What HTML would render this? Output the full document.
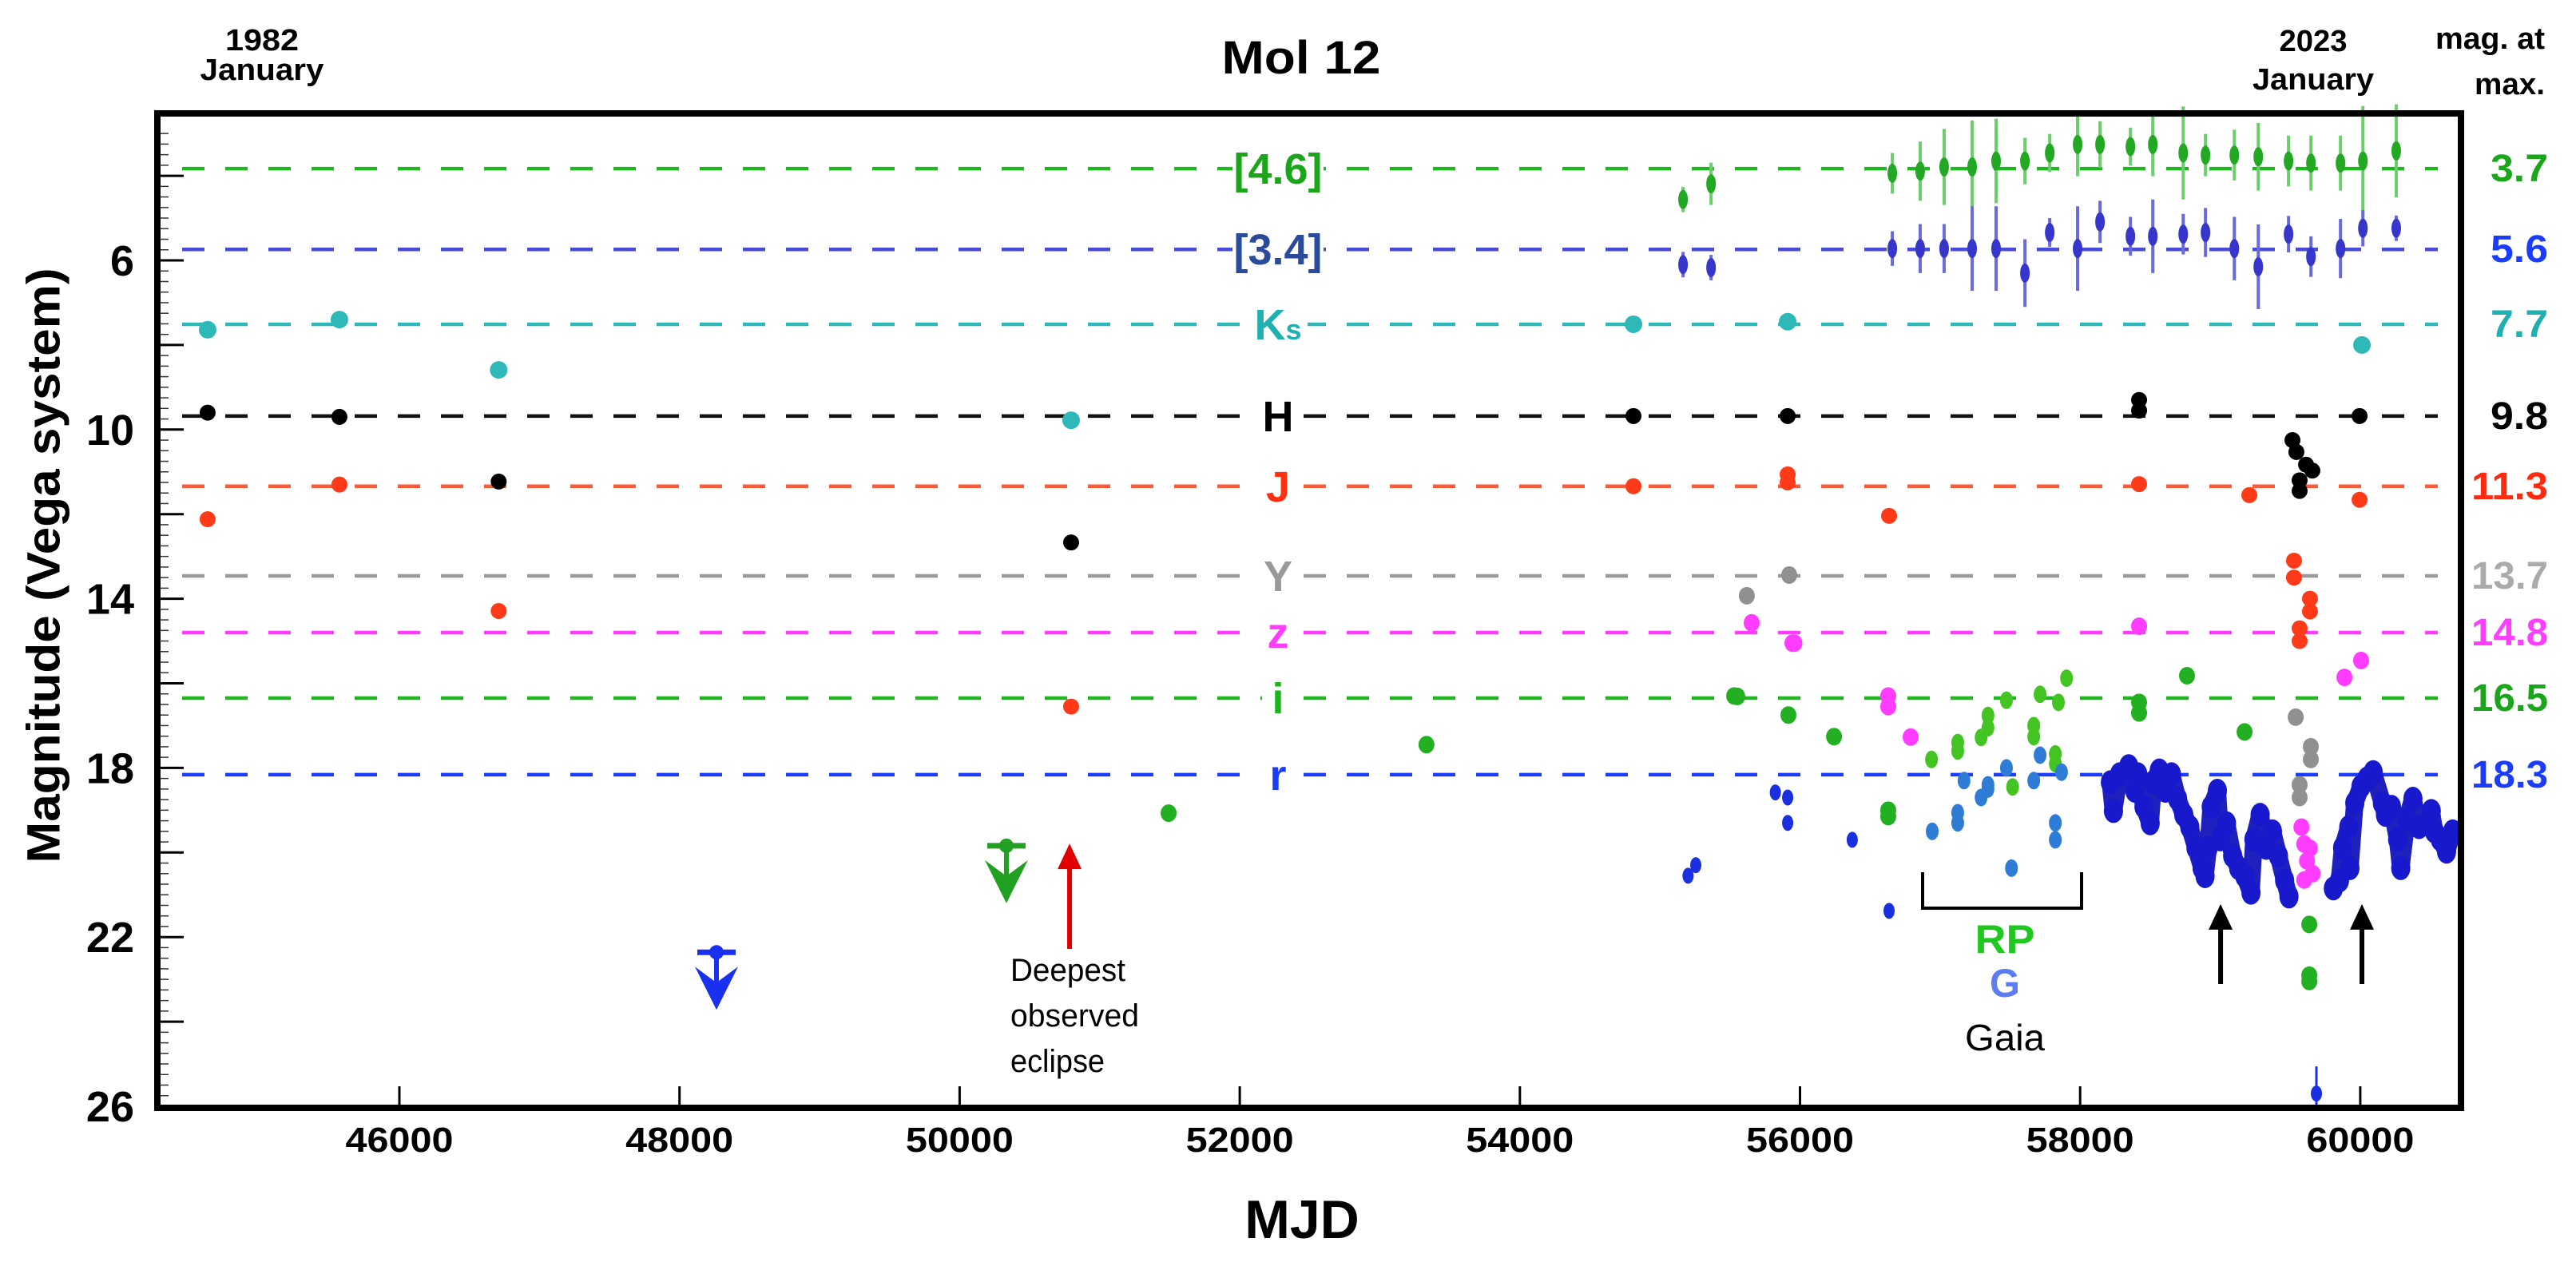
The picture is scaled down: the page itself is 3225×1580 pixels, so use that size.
<!DOCTYPE html>
<html><head><meta charset="utf-8"><style>
html,body{margin:0;padding:0;background:#fff}
svg{display:block}
text{font-family:"Liberation Sans",sans-serif}
</style></head><body>
<svg id="chart" xmlns="http://www.w3.org/2000/svg" width="3225" height="1580" viewBox="0 0 3225 1580">
<rect x="0" y="0" width="3225" height="1580" fill="#fff"/>
<g id="lines"></g>
<g id="marks"></g>
<g id="axes"></g>
<text x="1629" y="92" font-size="58" font-weight="bold" text-anchor="middle" textLength="199" lengthAdjust="spacingAndGlyphs">Mol 12</text>
<text x="328" y="63" font-size="38" font-weight="bold" text-anchor="middle" textLength="92" lengthAdjust="spacingAndGlyphs">1982</text>
<text x="328" y="100" font-size="38" font-weight="bold" text-anchor="middle" textLength="155" lengthAdjust="spacingAndGlyphs">January</text>
<text x="2896" y="64" font-size="38" font-weight="bold" text-anchor="middle" textLength="85" lengthAdjust="spacingAndGlyphs">2023</text>
<text x="2896" y="112" font-size="38" font-weight="bold" text-anchor="middle" textLength="152" lengthAdjust="spacingAndGlyphs">January</text>
<text x="3186" y="61" font-size="38" font-weight="bold" text-anchor="end" textLength="137" lengthAdjust="spacingAndGlyphs">mag. at</text>
<text x="3186" y="118" font-size="38" font-weight="bold" text-anchor="end" textLength="88" lengthAdjust="spacingAndGlyphs">max.</text>
<text x="59" y="708" font-size="58" font-weight="bold" text-anchor="middle" textLength="745" lengthAdjust="spacingAndGlyphs" transform="rotate(-90 59 708)" dominant-baseline="middle">Magnitude (Vega system)</text>
<text x="1630" y="1550" font-size="68" font-weight="bold" text-anchor="middle">MJD</text>
<text x="1265" y="1228" font-size="40" textLength="144" lengthAdjust="spacingAndGlyphs">Deepest</text>
<text x="1265" y="1285" font-size="40" textLength="161" lengthAdjust="spacingAndGlyphs">observed</text>
<text x="1265" y="1342" font-size="40" textLength="118" lengthAdjust="spacingAndGlyphs">eclipse</text>
<path d="M2407 1092 V1137 H2606 V1092" fill="none" stroke="#000" stroke-width="4"/>
<text x="2510" y="1193" font-size="50" font-weight="bold" fill="#1ec81e" text-anchor="middle" textLength="75" lengthAdjust="spacingAndGlyphs">RP</text>
<text x="2510" y="1248" font-size="50" font-weight="bold" fill="#5b7cf5" text-anchor="middle" textLength="38" lengthAdjust="spacingAndGlyphs">G</text>
<text x="2510" y="1315" font-size="46" text-anchor="middle" textLength="100" lengthAdjust="spacingAndGlyphs">Gaia</text>
<script>
// ---- data ----
const xTicks = [46000, 48000, 50000, 52000, 54000, 56000, 58000, 60000];
const yTicks = [6, 10, 14, 18, 22, 26];
const bandNames = ["[4.6]", "[3.4]", "Ks", "H", "J", "Y", "z", "i", "r"];
const bandLineMag = [3.83, 5.74, 7.51, 9.68, 11.34, 13.46, 14.80, 16.35, 18.16];
const bandMaxLabel = ["3.7", "5.6", "7.7", "9.8", "11.3", "13.7", "14.8", "16.5", "18.3"];
const ksMJD = [44631, 45572, 46709, 50796, 54811, 55912, 60012];
const ksMag = [7.64, 7.40, 8.59, 9.78, 7.51, 7.45, 8.0];
const hMJD = [44631, 45572, 46709, 50796, 54811, 55912, 58421, 58421, 59516, 59544, 59613, 59658, 59567, 59567, 59995];
const hMag = [9.6, 9.7, 11.23, 12.67, 9.68, 9.68, 9.3, 9.55, 10.25, 10.53, 10.83, 10.97, 11.2, 11.45, 9.68];
const jMJD = [44631, 45572, 46709, 50796, 54811, 55912, 55912, 56636, 58421, 59208, 59995, 59527, 59527, 59641, 59641, 59567, 59567];
const jMag = [12.12, 11.3, 14.29, 16.55, 11.34, 11.06, 11.25, 12.04, 11.29, 11.55, 11.66, 13.1, 13.5, 14.0, 14.3, 14.7, 15.0];
const yMJD = [55620, 55923, 59539, 59647, 59647, 59567, 59567];
const yMag = [13.93, 13.44, 16.8, 17.5, 17.8, 18.4, 18.7];
const zMJD = [55655, 55946, 55960, 56630, 56630, 56790, 58421, 59887, 60006, 59580, 59600, 59620, 59640, 59660, 59600];
const zMag = [14.57, 15.05, 15.05, 16.3, 16.55, 17.27, 14.65, 15.86, 15.46, 19.4, 19.8, 20.2, 19.9, 20.5, 20.65];
const iMJD = [51492, 53333, 55552, 55530, 55917, 56243, 56630, 56630, 58421, 58421, 58763, 59174, 59636, 59636, 59636];
const iMag = [19.07, 17.45, 16.31, 16.3, 16.75, 17.26, 19.0, 19.15, 16.45, 16.7, 15.82, 17.15, 21.7, 22.9, 23.05];
const rpMJD = [56939, 57126, 57126, 57293, 57342, 57342, 57474, 57518, 57669, 57669, 57714, 57845, 57823, 57823, 57903];
const rpMag = [17.8, 17.4, 17.6, 17.28, 17.05, 16.76, 16.4, 18.45, 17.0, 17.26, 16.26, 16.45, 17.67, 17.9, 15.88];
const gMJD = [56944, 57126, 57126, 57171, 57293, 57342, 57342, 57474, 57510, 57669, 57714, 57823, 57823, 57867];
const gMag = [19.5, 19.06, 19.3, 18.3, 18.7, 18.4, 18.5, 18.0, 20.37, 18.3, 17.7, 19.3, 19.7, 18.1];
const rEarlyMJD = [55201, 55256, 55824, 55912, 55912, 56373, 56636, 59687];
const rEarlyMag = [20.55, 20.3, 18.58, 18.7, 19.3, 19.7, 21.38, 25.7];
const rMJD = [58216, 58238, 58282, 58347, 58391, 58412, 58456, 58500, 58522, 58565, 58609, 58652, 58696, 58740, 58783, 58827, 58871, 58892, 58914, 58936, 58980, 59001, 59045, 59089, 59132, 59176, 59220, 59241, 59285, 59329, 59373, 59416, 59460, 59491, 59808, 59852, 59874, 59918, 59926, 59961, 60005, 60049, 60092, 60158, 60180, 60223, 60267, 60289, 60332, 60376, 60420, 60507, 60529, 60572, 60616, 60660];
const rMag = [18.34, 19.02, 18.15, 17.96, 18.54, 18.15, 18.92, 19.31, 18.34, 18.06, 18.54, 18.15, 18.73, 19.11, 19.40, 19.89, 20.37, 20.56, 19.89, 18.92, 18.54, 19.69, 19.31, 20.08, 20.37, 20.56, 20.95, 19.69, 19.11, 19.89, 19.50, 20.08, 20.66, 21.04, 20.85, 20.66, 19.89, 19.40, 20.37, 18.83, 18.44, 18.25, 18.10, 18.83, 19.11, 18.92, 19.69, 20.37, 19.21, 18.73, 19.40, 19.02, 19.50, 19.69, 19.98, 19.50];
const wiseMJD = [55165, 55365, 56659, 56858, 57029, 57229, 57400, 57606, 57783, 57982, 58142, 58359, 58519, 58736, 58895, 59101, 59272, 59488, 59648, 59859, 60019, 60257];
const w2Mag = [4.56, 4.19, 3.94, 3.89, 3.79, 3.79, 3.65, 3.65, 3.46, 3.26, 3.26, 3.31, 3.26, 3.46, 3.51, 3.51, 3.55, 3.65, 3.70, 3.70, 3.65, 3.41];
const w2Err = [0.3, 0.5, 0.48, 0.7, 0.9, 1.1, 1.0, 0.55, 0.45, 0.75, 0.55, 0.45, 0.75, 1.1, 0.5, 0.6, 0.8, 0.6, 0.65, 0.65, 1.3, 1.1];
const w1Mag = [6.1, 6.17, 5.72, 5.72, 5.72, 5.72, 5.72, 6.30, 5.34, 5.72, 5.09, 5.43, 5.43, 5.38, 5.34, 5.72, 6.15, 5.38, 5.91, 5.72, 5.24, 5.24];
const w1Err = [0.3, 0.3, 0.41, 0.58, 0.58, 1.0, 1.0, 0.8, 0.34, 1.0, 0.5, 0.46, 0.87, 0.48, 0.58, 0.75, 1.0, 0.43, 0.48, 0.7, 0.43, 0.3];
const limitMJD = [48264, 50334];
const limitMag = [22.36, 19.84];
const eclipseArrowMJD = [50785];
const eclipseArrowMag = [22.28, 19.79];
const minimaArrowMJD = [59003, 60012];
const minimaArrowMag = [23.11, 21.22];

// ---- scales ----
const X = m => 500 + (m - 46000) * 0.17535;
const Y = g => 326 + (g - 6) * 52.95;
const NS = "http://www.w3.org/2000/svg";
function mk(tag, attrs, parent) {
  const e = document.createElementNS(NS, tag);
  for (const k in attrs) e.setAttribute(k, attrs[k]);
  parent.appendChild(e);
  return e;
}
const gl = document.getElementById('lines');
const gm = document.getElementById('marks');
const ga = document.getElementById('axes');

const lineColors = ["#22b522", "#4a4ad8", "#2fb8b8", "#111", "#ff5a3a", "#999", "#ff3cff", "#22b522", "#1a3cff"];
const labelColors = ["#1aa51a", "#2a4a9a", "#1fb0b0", "#000", "#ff3010", "#999", "#ff3cff", "#1ab51a", "#1a3cff"];
const rightColors = ["#1aa51a", "#1a3cff", "#1fb0b0", "#000", "#ff2a10", "#aaa", "#ff3cff", "#1aa51a", "#1a3cff"];
const labelW = [90, 90, 50, 40, 30, 40, 30, 16, 30];
for (let k = 0; k < bandNames.length; k++) {
  const y = Y(bandLineMag[k]);
  const ln = mk('line', {x1: 228, x2: 3052, y1: y, y2: y, stroke: lineColors[k], 'stroke-width': 4.5, 'stroke-dasharray': '28 26'}, gl);
  
  
  const bg = mk('rect', {x: 1600 - labelW[k] / 2 - 12, y: y - 30, width: labelW[k] + 24, height: 60, fill: '#fff'}, gl);
  
  
  const t = mk('text', {x: 1600, y: y + 19, 'font-size': 54, 'font-weight': 'bold', fill: labelColors[k], 'text-anchor': 'middle'}, gl);
  
  
  if (bandNames[k] === 'Ks') {
    t.textContent = 'K';
    const s = mk('tspan', {'font-size': 36}, t); s.textContent = 's';
  } else t.textContent = bandNames[k];
  const rt = mk('text', {x: 3190, y: y + 16, 'font-size': 48, 'font-weight': 'bold', fill: rightColors[k], 'text-anchor': 'end', textLength: bandMaxLabel[k].length * 24, lengthAdjust: 'spacingAndGlyphs'}, gl);
  
  
  rt.textContent = bandMaxLabel[k];
}

function dots(mjd, mag, color, rx, ry, name) {
  for (let k = 0; k < mjd.length; k++) {
    const e = mk('ellipse', {cx: X(mjd[k]), cy: Y(mag[k]), rx: rx, ry: ry, fill: color}, gm);
    
    
  }
}
function wise(mag, err, color, barColor, name) {
  for (let k = 0; k < wiseMJD.length; k++) {
    const x = X(wiseMJD[k]);
    const b = mk('line', {x1: x, x2: x, y1: Y(mag[k] - err[k]), y2: Y(mag[k] + err[k]), stroke: barColor, 'stroke-width': 4}, gm);
    
    
    const e = mk('ellipse', {cx: x, cy: Y(mag[k]), rx: 6, ry: 12, fill: color}, gm);
    
    
  }
}
wise(w2Mag, w2Err, '#22a822', '#6ccd6c', 'wise-4p6-point');
wise(w1Mag, w1Err, '#3636cc', '#6a6ad8', 'wise-3p4-point');

let pd = '';
for (let k = 0; k < rMJD.length; k++) {
  if (k > 0 && rMJD[k] - rMJD[k - 1] > 200) pd += ' M'; else pd += (k === 0 ? 'M' : ' L');
  pd += X(rMJD[k]).toFixed(1) + ' ' + Y(rMag[k]).toFixed(1);
}
const trail = mk('path', {d: pd, fill: 'none', stroke: '#1414b8', 'stroke-width': 22, 'stroke-linejoin': 'round', 'stroke-linecap': 'round', opacity: 0.95}, gm);



dots(ksMJD, ksMag, '#2fb8b8', 11, 11, 'ks-point');
dots(hMJD, hMag, '#000', 10, 10, 'h-point');
dots(jMJD, jMag, '#ff3a18', 10, 10, 'j-point');
dots(yMJD, yMag, '#909090', 10, 11, 'y-point');
dots(zMJD, zMag, '#ff3cff', 10, 11, 'z-point');
dots(iMJD, iMag, '#22b022', 10, 11, 'i-point');
dots(rpMJD, rpMag, '#44c422', 8, 11, 'gaia-rp-point');
dots(gMJD, gMag, '#2e7cd6', 8, 11, 'gaia-g-point');
dots(rEarlyMJD, rEarlyMag, '#1a30e0', 7, 10, 'r-point');
dots(rMJD, rMag, '#1818cc', 12, 15, 'r-point');
{
  const x = X(rEarlyMJD[7]);
  const b = mk('line', {x1: x, x2: x, y1: Y(rEarlyMag[7]) - 34, y2: Y(26), stroke: '#1a30e0', 'stroke-width': 3}, gm);
  
  
}

const limColors = ['#1a30f0', '#22a022'];
for (let k = 0; k < limitMJD.length; k++) {
  const x = X(limitMJD[k]), y = Y(limitMag[k]);
  const g = mk('g', {fill: limColors[k], stroke: limColors[k]}, gm);
  
  
  mk('line', {x1: x - 24, x2: x + 24, y1: y, y2: y, 'stroke-width': 7}, g);
  mk('circle', {cx: x, cy: y, r: 9, stroke: 'none'}, g);
  mk('line', {x1: x, x2: x, y1: y, y2: y + 40, 'stroke-width': 6}, g);
  mk('path', {d: `M${x - 27} ${y + 18} L${x} ${y + 72} L${x + 27} ${y + 18} L${x} ${y + 38} Z`, stroke: 'none'}, g);
}
{
  const x = X(eclipseArrowMJD[0]), y1 = Y(eclipseArrowMag[0]), y2 = Y(eclipseArrowMag[1]);
  const g = mk('g', {fill: '#e00000', stroke: '#e00000'}, gm);
  
  
  mk('line', {x1: x, x2: x, y1: y1, y2: y2 + 25, 'stroke-width': 6}, g);
  mk('path', {d: `M${x - 15} ${y2 + 32} L${x} ${y2} L${x + 15} ${y2 + 32} Z`, stroke: 'none'}, g);
}
for (let k = 0; k < minimaArrowMJD.length; k++) {
  const x = X(minimaArrowMJD[k]), y1 = Y(minimaArrowMag[0]), y2 = Y(minimaArrowMag[1]);
  const g = mk('g', {fill: '#000', stroke: '#000'}, gm);
  
  
  mk('line', {x1: x, x2: x, y1: y1, y2: y2 + 25, 'stroke-width': 6}, g);
  mk('path', {d: `M${x - 15} ${y2 + 32} L${x} ${y2} L${x + 15} ${y2 + 32} Z`, stroke: 'none'}, g);
}

const frame = mk('rect', {x: 197, y: 142, width: 2884, height: 1245, fill: 'none', stroke: '#000', 'stroke-width': 8}, ga);


for (let v = 3; v <= 26; v += 0.25) {
  const y = Y(v);
  if (y < 146 || y > 1383) continue;
  const mt = mk('line', {x1: 201, x2: 211, y1: y, y2: y, stroke: '#333', 'stroke-width': 1.5}, ga);
  
  
}
for (let v = 4; v <= 26; v += 2) {
  const y = Y(v);
  if (y > 1383) continue;
  const t = mk('line', {x1: 201, x2: 230, y1: y, y2: y, stroke: '#000', 'stroke-width': 3}, ga);
  
  
}
for (const v of yTicks) {
  const t = mk('text', {x: 168, y: Y(v) + 19, 'font-size': 54, 'font-weight': 'bold', 'text-anchor': 'end'}, ga);
  
  
  t.textContent = v;
}
for (const v of xTicks) {
  const x = X(v);
  const t = mk('line', {x1: x, x2: x, y1: 1383, y2: 1360, stroke: '#000', 'stroke-width': 3}, ga);
  
  
  const l = mk('text', {x: x, y: 1442, 'font-size': 44, 'font-weight': 'bold', 'text-anchor': 'middle', textLength: 135, lengthAdjust: 'spacingAndGlyphs'}, ga);
  
  
  l.textContent = v;
}
</script>
</svg>
</body></html>
